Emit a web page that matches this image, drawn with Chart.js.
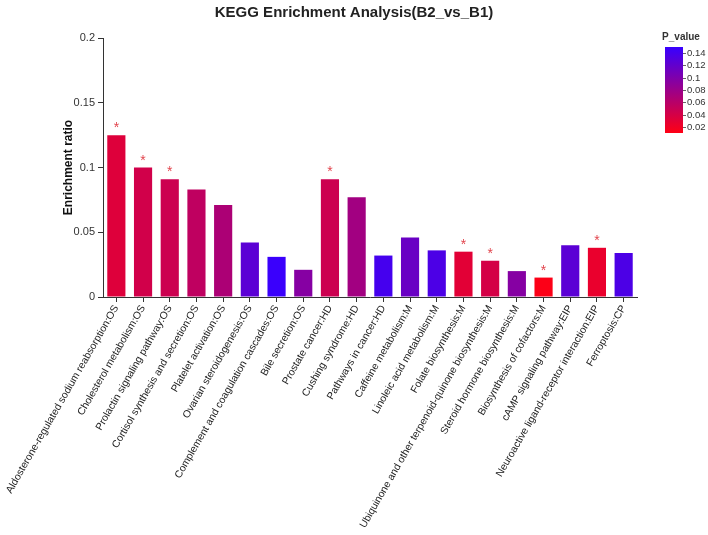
<!DOCTYPE html>
<html>
<head>
<meta charset="utf-8">
<script src="https://cdn.jsdelivr.net/npm/chart.js@4"></script>
<style>
  html, body { margin: 0; padding: 0; background: #fff; }
  #wrap { width: 708px; height: 535px; }
</style>
</head>
<body>
<div id="wrap"><canvas id="kegg"></canvas></div>
<script>
const pathways = [
  "Aldosterone-regulated sodium reabsorption:OS",
  "Cholesterol metabolism:OS",
  "Prolactin signaling pathway:OS",
  "Cortisol synthesis and secretion:OS",
  "Platelet activation:OS",
  "Ovarian steroidogenesis:OS",
  "Complement and coagulation cascades:OS",
  "Bile secretion:OS",
  "Prostate cancer:HD",
  "Cushing syndrome:HD",
  "Pathways in cancer:HD",
  "Caffeine metabolism:M",
  "Linoleic acid metabolism:M",
  "Folate biosynthesis:M",
  "Ubiquinone and other terpenoid-quinone biosynthesis:M",
  "Steroid hormone biosynthesis:M",
  "Biosynthesis of cofactors:M",
  "cAMP signaling pathway:EIP",
  "Neuroactive ligand-receptor interaction:EIP",
  "Ferroptosis:CP"
];
const enrichRatio = [0.125, 0.1, 0.091, 0.083, 0.071, 0.042, 0.031, 0.021, 0.091, 0.077,
                     0.032, 0.046, 0.036, 0.035, 0.028, 0.02, 0.015, 0.04, 0.038, 0.034];
const pValues = [0.033, 0.042, 0.046, 0.055, 0.068, 0.125, 0.148, 0.095, 0.046, 0.075,
                 0.14, 0.115, 0.135, 0.03, 0.04, 0.095, 0.012, 0.125, 0.025, 0.135];
const legendTicks = [0.14, 0.12, 0.1, 0.08, 0.06, 0.04, 0.02];

// colour scale: red at low p, blue at high p
const pMin = 0.01, pMax = 0.15;
const lowColor = [255, 0, 20];
const highColor = [55, 0, 255];
function pColor(p) {
  let t = (p - pMin) / (pMax - pMin);
  t = Math.max(0, Math.min(1, t));
  const c = lowColor.map((v, i) => Math.round(v + (highColor[i] - v) * t));
  return `rgb(${c[0]},${c[1]},${c[2]})`;
}

const FONT = "'Liberation Sans', Arial, sans-serif";

const starPlugin = {
  id: "stars",
  afterDatasetsDraw(chart) {
    const ctx = chart.ctx;
    const meta = chart.getDatasetMeta(0);
    ctx.save();
    ctx.fillStyle = "#e2454d";
    ctx.font = "14px " + FONT;
    ctx.textAlign = "center";
    ctx.textBaseline = "alphabetic";
    meta.data.forEach((bar, i) => {
      if (pValues[i] < 0.05) ctx.fillText("*", bar.x, bar.y - 3);
    });
    ctx.restore();
  }
};

const colorBarPlugin = {
  id: "colorBar",
  afterDraw(chart) {
    const ctx = chart.ctx;
    const x = 665, w = 18, top = 47, bottom = 133;
    const yOf = p => bottom - (p - pMin) / (pMax - pMin) * (bottom - top);
    ctx.save();
    const g = ctx.createLinearGradient(0, bottom, 0, top);
    g.addColorStop(0, pColor(pMin));
    g.addColorStop(0.5, pColor((pMin + pMax) / 2));
    g.addColorStop(1, pColor(pMax));
    ctx.fillStyle = g;
    ctx.fillRect(x, top, w, bottom - top);
    ctx.strokeStyle = "#666";
    ctx.lineWidth = 1;
    ctx.fillStyle = "#333";
    ctx.font = "9.5px " + FONT;
    ctx.textAlign = "left";
    ctx.textBaseline = "middle";
    legendTicks.forEach(v => {
      const y = Math.round(yOf(v)) + 0.5;
      ctx.beginPath();
      ctx.moveTo(x + w, y);
      ctx.lineTo(x + w + 3, y);
      ctx.stroke();
      ctx.fillText(String(v), x + w + 4, y);
    });
    ctx.font = "bold 10px " + FONT;
    ctx.textAlign = "center";
    ctx.textBaseline = "alphabetic";
    ctx.fillText("P_value", 681, 40);
    ctx.restore();
  }
};

const data = {
  labels: pathways,
  datasets: [
    {
      label: "Enrichment ratio",
      data: enrichRatio,
      backgroundColor: pValues.map(pColor),
      borderWidth: 0,
      barPercentage: 0.68,
      categoryPercentage: 1.0,
    },
  ],
};

const options = {
  responsive: true,
  maintainAspectRatio: false,
  animation: false,
  layout: {
    padding: { left: 71, right: 71, top: 0, bottom: 0 },
  },
  plugins: {
    legend: { display: false },
    tooltip: { enabled: false },
    title: {
      display: true,
      text: "KEGG Enrichment Analysis(B2_vs_B1)",
      color: "#222",
      font: { family: FONT, size: 15, weight: "bold" },
      padding: { top: 4, bottom: 16 },
    },
  },
  scales: {
    x: {
      offset: true,
      grid: {
        display: true,
        offset: false,
        drawOnChartArea: false,
        drawTicks: true,
        tickLength: 5,
        color: "#333",
      },
      border: { display: true, color: "#333", width: 1 },
      ticks: {
        autoSkip: false,
        maxRotation: 60,
        minRotation: 60,
        padding: 1,
        color: "#222",
        font: { family: FONT, size: 10.3 },
      },
      afterFit(scale) { scale.height = 238; },
    },
    y: {
      min: 0,
      max: 0.2,
      grid: {
        display: true,
        drawOnChartArea: false,
        drawTicks: true,
        tickLength: 5,
        color: "#333",
      },
      border: { display: true, color: "#333", width: 1 },
      ticks: {
        stepSize: 0.05,
        padding: 3,
        color: "#333",
        font: { family: FONT, size: 11 },
        callback: v => String(+v.toFixed(2)),
      },
      title: {
        display: true,
        text: "Enrichment ratio",
        color: "#111",
        font: { family: FONT, size: 12, weight: "bold" },
        padding: { top: -10, bottom: 0 },
      },
      afterFit(scale) { scale.width = 32; },
    },
  },
};

const chart = new Chart(document.getElementById("kegg"), {
  type: "bar",
  data: data,
  options: options,
  plugins: [starPlugin, colorBarPlugin],
});
</script>
</body>
</html>
